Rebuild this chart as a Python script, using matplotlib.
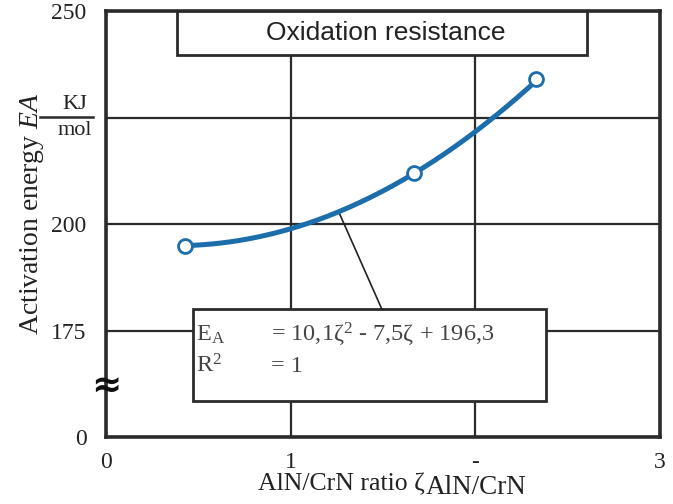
import matplotlib
matplotlib.use('Agg')
import matplotlib.pyplot as plt
from matplotlib.patches import Rectangle
import numpy as np

# measured points (AlN/CrN ratio, activation energy in kJ/mol)
zeta = [0.43, 1.67, 2.33]
energy = [194.9, 212.0, 234.0]

# quadratic fit given in the chart: E = 10.1 z^2 - 7.5 z + 196.3
fit_coeffs = [10.1, -7.5, 196.3]

x_ticks = [0, 1, 2, 3]
x_tick_labels = ['0', '1', '-', '3']
y_ticks = [150, 175, 200, 225, 250]
y_tick_labels = ['0', '175', '200', '', '250']

BLUE = '#1b6dac'
DARK = '#2b2b2b'
TEXT = '#222222'

plt.rcParams['font.family'] = ['Liberation Serif', 'DejaVu Serif']
plt.rcParams['mathtext.fontset'] = 'custom'
plt.rcParams['mathtext.rm'] = 'Liberation Serif'
plt.rcParams['mathtext.it'] = 'Liberation Serif:italic'

fig = plt.figure(figsize=(6.73, 5.04), dpi=100)
ax = fig.add_axes([0.1575, 0.1329, 0.8232, 0.8451])

ax.set_xlim(0, 3)
ax.set_ylim(150, 250)
ax.set_xticks(x_ticks)
ax.set_xticklabels(x_tick_labels)
ax.set_yticks(y_ticks)
ax.set_yticklabels(y_tick_labels)
ax.tick_params(length=0, labelsize=17, colors=TEXT)
ax.tick_params(axis='x', pad=11)
ax.tick_params(axis='y', pad=14)

ax.grid(True, color=DARK, linewidth=1.6, zorder=1)
ax.set_axisbelow(True)
for side in ax.spines.values():
    side.set_linewidth(2.6)
    side.set_color(DARK)

# fit curve + points
z_line = np.linspace(zeta[0], zeta[-1], 200)
ax.plot(z_line, np.polyval(fit_coeffs, z_line), color=BLUE, linewidth=3.6,
        solid_capstyle='round', zorder=4)
ax.plot(zeta, energy, linestyle='none', marker='o', markersize=10,
        markerfacecolor='white', markeredgecolor=BLUE, markeredgewidth=2,
        zorder=5)

# title box
ax.add_patch(Rectangle((0.128, 0.897), 0.74, 0.103, transform=ax.transAxes,
                       facecolor='white', edgecolor=DARK, linewidth=2, zorder=3))
ax.text(0.505, 0.949, 'Oxidation resistance', transform=ax.transAxes,
        ha='center', va='center', fontsize=19, family='Liberation Sans',
        color=TEXT, zorder=6)

# equation box
eq_color = '#444444'
ax.add_patch(Rectangle((0.157, 0.0845), 0.637, 0.2155, transform=ax.transAxes,
                       facecolor='white', edgecolor=DARK, linewidth=2, zorder=3))
ax.text(0.162, 0.225, r'E$_\mathrm{A}$', transform=ax.transAxes,
        ha='left', va='baseline', fontsize=17.5, color=eq_color, zorder=6)
ax.text(0.298, 0.225, r'= 10,1ζ$^\mathrm{2}$ - 7,5ζ + 196,3', transform=ax.transAxes,
        ha='left', va='baseline', fontsize=17.5, color=eq_color, zorder=6)
ax.text(0.162, 0.152, r'R$^\mathrm{2}$', transform=ax.transAxes,
        ha='left', va='baseline', fontsize=17.5, color=eq_color, zorder=6)
ax.text(0.298, 0.152, '= 1', transform=ax.transAxes,
        ha='left', va='baseline', fontsize=17.5, color=eq_color, zorder=6)

# leader line from curve to equation box
z_lead = 1.26
ax.annotate('', xy=(z_lead, np.polyval(fit_coeffs, z_lead)), xycoords='data',
            xytext=(0.498, 0.300), textcoords='axes fraction',
            arrowprops=dict(arrowstyle='-', color='#222222', linewidth=1.2,
                            shrinkA=0, shrinkB=0), zorder=3)

# axis break on the y axis
ax.text(0.0, 0.118, '≈', transform=ax.transAxes, ha='center', va='center',
        fontsize=26, fontweight='bold', family='DejaVu Sans', color='#111111',
        zorder=7, clip_on=False)

# unit fraction next to the 225 gridline
fig.text(0.111, 0.792, 'KJ', ha='center', va='center', fontsize=16, color=TEXT)
fig.text(0.111, 0.742, 'mol', ha='center', va='center', fontsize=16, color=TEXT)
fig.add_artist(plt.Line2D([0.059, 0.138], [0.768, 0.768], color=DARK,
                          linewidth=1.8, transform=fig.transFigure))

# axis labels
fig.text(0.047, 0.576, r'Activation energy $EA$', rotation=90,
         ha='center', va='center', fontsize=20, color=TEXT)
fig.text(0.632, 0.028, 'AlN/CrN ratio ζ', ha='right', va='baseline',
         fontsize=18.5, color=TEXT)
fig.text(0.632, 0.019, 'AlN/CrN', ha='left', va='baseline',
         fontsize=19.5, color=TEXT)

fig.savefig('out.png', dpi=100)
plt.close(fig)
